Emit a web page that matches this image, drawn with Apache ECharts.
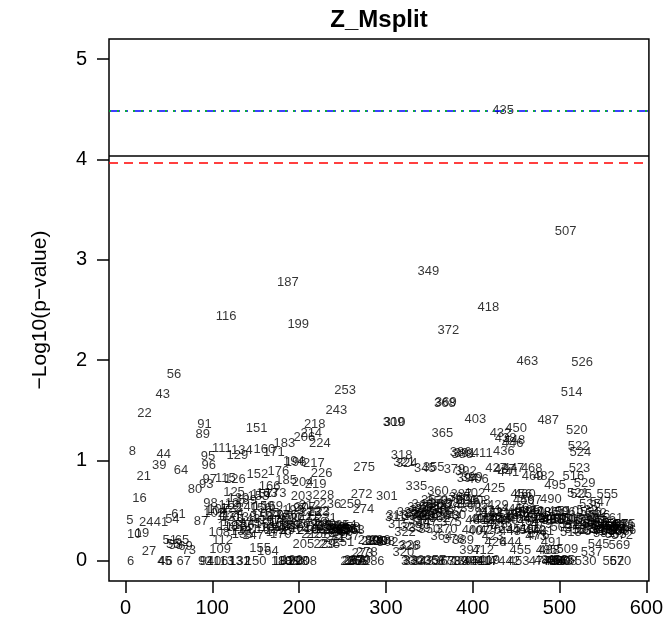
<!DOCTYPE html>
<html><head><meta charset="utf-8">
<script src="https://cdn.jsdelivr.net/npm/echarts@6/dist/echarts.min.js"></script>
<style>html,body{margin:0;padding:0;background:#fff}#c{width:666px;height:634px}</style>
</head><body><div id="c"></div>
<script>
// point identifiers (also the x position)
const ids = [
  5,6,8,10,16,19,21,22,24,27, 39,41,43,44,45,46,51,54,55,56, 58,61,64,65,67,69,73,80,87,89, 91,92,93,94,95,96,97,98,
  102,104,106,107,108,109,111,112,113,115, 116,117,118,119,121,122,123,124,125,126, 127,128,129,130,131,132,133,134,135,136,
  138,139,140,141,143,145,147,150,151,152, 153,155,156,157,158,159,160,161,162,163, 164,165,166,167,168,169,170,171,172,173,
  174,175,176,177,178,179,180,181,182,183, 184,185,186,187,188,189,190,191,192,193, 194,195,196,197,198,199,200,
  201,202,203,204,205,206,207,208,209,210, 211,212,213,214,215,216,217,218,219,220, 221,222,223,224,225,226,227,228,229,230,
  231,232,234,235,236,238,240,241,242,243, 244,245,246,247,248,250,251,253,254,255, 256,257,258,259,260,261,262,263,264,266,
  268,270,272,273,274,275,278,280,284,286, 288,290,293,298,
  301,302,309,310,311,313,315,318,320,321, 322,324,325,326,328,329,330,331,332,333, 334,335,336,337,338,339,340,341,342,343,
  344,345,346,347,348,349,350,351,352,353, 354,355,356,357,358,359,360,361,362,363, 364,365,366,367,368,369,370,371,372,373,
  374,375,376,377,378,379,380,381,383,385, 386,387,388,389,390,391,392,393,394,395, 396,397,398,399,
  400,401,402,403,404,405,406,407,408,409, 410,411,412,413,414,415,416,417,418,419, 420,421,422,423,424,425,426,427,428,429,
  430,431,432,433,434,435,436,437,438,439, 440,441,442,443,444,445,446,447,448,449, 450,451,452,453,454,455,456,457,458,459,
  460,461,462,463,464,465,466,467,468,469, 470,471,472,473,474,475,476,477,478,479, 480,481,482,483,484,485,486,487,488,489,
  490,491,492,493,494,495,496,497,498,499, 500,
  501,502,503,504,505,506,507,508,509,510, 511,512,513,514,515,516,517,518,519,520, 521,522,523,524,525,526,527,528,529,530,
  531,532,533,534,535,536,537,538,539,540, 541,542,543,544,545,546,547,548,549,551, 552,553,555,556,557,559,560,561,562,563,
  564,565,566,567,568,569,570,571,572,573, 574,575,576
];
// -log10(p-value) of each point, same order as ids
const logP = [
  0.40,0.00,1.09,0.26,0.62,0.27,0.84,1.47,0.38,0.09, 0.95,0.38,1.66,1.06,0.00,0.00,0.20,0.41,0.16,1.86, 0.15,0.46,0.90,0.20,0.00,0.14,0.10,0.71,0.39,1.26, 1.36,0.00,0.76,0.00,1.04,0.95,0.81,0.57,
  0.47,0.49,0.00,0.51,0.28,0.11,1.12,0.20,0.00,0.82, 2.44,0.44,0.34,0.55,0.43,0.52,0.38,0.47,0.68,0.81, 0.57,0.33,1.05,0.62,0.00,0.00,0.29,1.10,0.26,0.35,
  0.43,0.60,0.53,0.31,0.41,0.37,0.25,0.00,1.32,0.86, 0.64,0.12,0.52,0.66,0.43,0.54,1.11,0.36,0.31,0.67, 0.09,0.47,0.74,0.40,0.33,0.54,0.45,1.08,0.30,0.67,
  0.28,0.39,0.89,0.45,0.34,0.26,0.00,0.40,0.00,1.17, 0.33,0.80,0.45,2.77,0.00,0.35,0.42,0.30,0.01,0.50, 0.99,0.36,0.98,0.52,0.00,2.36,0.00,
  0.32,0.42,0.64,0.78,0.16,1.23,0.53,0.00,0.36,0.30, 0.44,0.55,0.48,1.27,0.26,0.33,0.97,1.36,0.76,0.38, 0.26,0.49,0.48,1.17,0.35,0.87,0.31,0.65,0.16,0.36,
  0.42,0.31,0.34,0.16,0.56,0.30,0.33,0.22,0.31,1.50, 0.34,0.30,0.32,0.27,0.31,0.28,0.18,1.70,0.35,0.31, 0.30,0.24,0.33,0.56,0.00,0.31,0.00,0.30,0.01,0.00,
  0.00,0.01,0.66,0.07,0.51,0.93,0.08,0.20,0.19,0.00, 0.19,0.19,0.20,0.19,
  0.64,0.18,1.38,1.38,0.43,0.45,0.36,1.05,0.08,0.98, 0.28,0.97,0.48,0.14,0.15,0.33,0.00,0.44,0.01,0.00, 0.46,0.74,0.47,0.53,0.40,0.32,0.50,0.45,0.56,0.00,
  0.42,0.92,0.51,0.38,0.46,2.88,0.31,0.55,0.44,0.60, 0.49,0.93,0.00,0.01,0.53,0.59,0.69,0.47,0.42,0.56, 0.24,1.27,0.50,0.00,1.57,1.58,0.31,0.00,2.30,0.44,
  0.55,0.38,0.60,0.48,0.21,0.91,0.45,0.57,0.00,0.63, 1.08,0.66,1.06,0.20,0.00,1.07,0.89,0.60,0.82,0.00, 0.60,0.10,0.52,0.83,
  0.30,0.00,0.67,1.41,0.40,0.55,0.81,0.29,0.60,0.41, 0.00,1.07,0.10,0.40,0.00,0.47,0.42,0.00,2.53,0.01, 0.30,0.50,0.48,0.24,0.40,0.72,0.18,0.92,0.36,0.55,
  0.41,0.47,1.27,0.33,0.42,4.49,1.09,0.91,1.22,0.46, 0.40,0.88,0.00,0.29,0.18,0.51,1.17,0.92,1.20,0.43, 1.32,0.31,0.47,0.00,0.41,0.10,0.66,0.48,0.30,0.60,
  0.66,0.52,0.46,1.99,0.39,0.50,0.31,0.60,0.92,0.84, 0.49,0.42,0.30,0.24,0.45,0.40,0.25,0.00,0.48,0.36, 0.41,0.29,0.84,0.01,0.42,0.10,0.48,1.40,0.10,0.40,
  0.61,0.18,0.00,0.41,0.00,0.75,0.00,0.42,0.01,0.49, 0.00,
  0.40,0.33,0.00,0.41,0.01,0.48,3.28,0.00,0.11,0.49, 0.40,0.36,0.28,1.68,0.42,0.84,0.41,0.31,0.35,1.30, 0.67,1.14,0.92,1.08,0.66,1.98,0.30,0.38,0.77,0.00,
  0.40,0.50,0.30,0.40,0.56,0.48,0.08,0.31,0.36,0.41, 0.29,0.47,0.39,0.35,0.16,0.45,0.58,0.31,0.34,0.27, 0.30,0.37,0.66,0.33,0.31,0.36,0.29,0.42,0.00,0.31,
  0.34,0.26,0.30,0.36,0.29,0.15,0.00,0.33,0.25,0.35, 0.31,0.36,0.30
];
const xTicks = [0, 100, 200, 300, 400, 500, 600];
const yTicks = [0, 1, 2, 3, 4, 5];
const thresholdBlack = 4.04;
const thresholdRed = 3.97;
const thresholdBlue = 4.49;
const thresholdGreen = 4.49;
const chartTitle = 'Z_Msplit';
const yTitle = '\u2212Log10(p\u2212value)';

const FONT = '"Liberation Sans", Arial, sans-serif';
const chart = echarts.init(document.getElementById('c'), null, {renderer: 'canvas'});
const points = ids.map((id, i) => [id, logP[i], id]);

chart.setOption({
  animation: false,
  backgroundColor: '#fff',
  graphic: [
    {type: 'text', x: 379, y: 20, style: {text: chartTitle, align: 'center', verticalAlign: 'middle',
      font: 'bold 24px ' + FONT, fill: '#000'}},
    {type: 'text', x: 40, y: 310, rotation: Math.PI / 2, style: {text: yTitle, align: 'center', verticalAlign: 'middle',
      font: '21px ' + FONT, fill: '#000'}}
  ],
  grid: {left: 109, right: 17, top: 39, bottom: 53, show: true, borderColor: '#000', borderWidth: 1.5,
    backgroundColor: 'transparent'},
  xAxis: {
    type: 'value', min: -19, max: 603, position: 'bottom',
    splitLine: {show: false}, axisLine: {show: false, onZero: false},
    axisTick: {show: true, inside: false, length: 12, customValues: xTicks, lineStyle: {color: '#000', width: 1.5}},
    axisLabel: {customValues: xTicks, fontSize: 20, color: '#000', fontFamily: FONT, margin: 17}
  },
  yAxis: {
    type: 'value', min: -0.2, max: 5.2, position: 'left',
    splitLine: {show: false}, axisLine: {show: false, onZero: false},
    axisTick: {show: true, inside: false, length: 12, customValues: yTicks, lineStyle: {color: '#000', width: 1.5}},
    axisLabel: {customValues: yTicks, fontSize: 20, color: '#000', fontFamily: FONT, margin: 22}
  },
  series: [
    {
      type: 'scatter', data: points, symbol: 'circle', symbolSize: 1,
      itemStyle: {color: 'rgba(0,0,0,0)'},
      label: {show: true, position: 'inside', formatter: p => String(p.value[2]),
        fontSize: 13, color: '#000', fontFamily: FONT},
      labelLayout: {hideOverlap: false},
      markLine: {
        silent: true, symbol: 'none', label: {show: false}, animation: false,
        data: [
          {yAxis: thresholdBlack, lineStyle: {color: '#000', type: 'solid', width: 1.5}},
          {yAxis: thresholdRed, lineStyle: {color: '#ff0000', type: [9, 6], width: 1.5}},
          {yAxis: thresholdBlue, lineStyle: {color: '#0000ff', type: [11, 5, 3, 5], width: 1.5}},
          {yAxis: thresholdGreen, lineStyle: {color: '#00cc00', type: [2, 6], width: 1.5}}
        ]
      }
    }
  ]
});
</script>
</body></html>
